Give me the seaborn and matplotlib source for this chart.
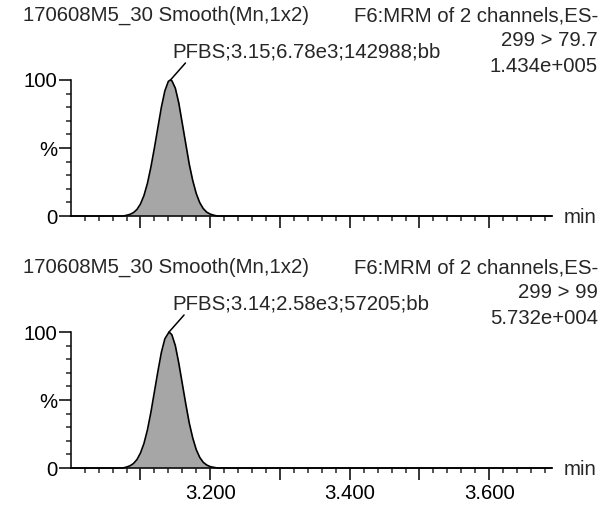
import numpy as np
import pandas as pd
import matplotlib
matplotlib.use("Agg")
import matplotlib.pyplot as plt
import seaborn as sns
from matplotlib.ticker import FixedLocator, FixedFormatter

sns.set_theme(style="ticks")
plt.rcParams["font.family"] = ["Liberation Sans", "DejaVu Sans"]

# ---- data ----
time_top = [3.000, 3.075, 3.080, 3.085, 3.090, 3.095, 3.100, 3.105, 3.110, 3.115,
            3.120, 3.125, 3.130, 3.135, 3.140, 3.143, 3.145, 3.150, 3.155, 3.160,
            3.165, 3.170, 3.175, 3.180, 3.185, 3.190, 3.195, 3.200, 3.205, 3.210, 3.690]
pct_top = [0, 0, 0.5, 1.2, 2.5, 4.8, 8.8, 15, 24, 36,
           50, 65, 80, 92, 99, 100, 99.5, 94, 83, 68,
           53, 38, 26, 16.5, 9.8, 5.5, 2.8, 1.4, 0.6, 0, 0]

time_bot = [3.000, 3.075, 3.080, 3.085, 3.090, 3.095, 3.100, 3.105, 3.110, 3.115,
            3.120, 3.125, 3.130, 3.135, 3.141, 3.145, 3.150, 3.155, 3.160,
            3.165, 3.170, 3.175, 3.180, 3.185, 3.190, 3.195, 3.200, 3.205, 3.210, 3.690]
pct_bot = [0, 0, 0.7, 1.6, 3.3, 6.2, 11, 18, 28, 41,
           56, 71, 85, 95, 100, 98, 90, 77, 62,
           47, 33, 22, 13.5, 7.8, 4.2, 2.2, 1.0, 0.5, 0, 0]

apex_top = (3.143, 100)
apex_bot = (3.141, 100)

left_title = "170608M5_30 Smooth(Mn,1x2)"
right_lines_top = ["F6:MRM of 2 channels,ES-", "299 > 79.7", "1.434e+005"]
right_lines_bot = ["F6:MRM of 2 channels,ES-", "299 > 99", "5.732e+004"]
peak_label_top = "PFBS;3.15;6.78e3;142988;bb"
peak_label_bot = "PFBS;3.14;2.58e3;57205;bb"

x_major = [3.1, 3.2, 3.3, 3.4, 3.5, 3.6]
x_major_labels = ["", "3.200", "", "3.400", "", "3.600"]
x_minor = list(np.round(np.arange(3.02, 3.685, 0.02), 3))
y_major = [0, 50, 100]
y_major_labels = ["0", "%", "100"]
y_minor = [10, 20, 30, 40, 60, 70, 80, 90]

W, H = 615, 507
fig = plt.figure(figsize=(W / 100, H / 100), dpi=100)
fig.patch.set_facecolor("white")

def fx(px):
    return px / W

def fy(py):
    return 1 - py / H

FS = 14.7
LW = 1.1

def panel(ax, t, p, apex, show_labels):
    df = pd.DataFrame({"t": t, "p": p})
    ax.fill_between(df["t"], 0, df["p"], color="#a6a6a6", lw=0, zorder=1)
    sns.lineplot(data=df, x="t", y="p", ax=ax, color="black", lw=1.2,
                 sort=False, zorder=3, clip_on=False)
    ax.set_xlim(3.0, 3.69)
    ax.set_ylim(0, 100)
    ax.set_xlabel("")
    ax.set_ylabel("")
    ax.set_facecolor("white")
    for s in ["top", "right"]:
        ax.spines[s].set_visible(False)
    for s in ["left", "bottom"]:
        ax.spines[s].set_linewidth(LW)
        ax.spines[s].set_color("black")
    ax.xaxis.set_major_locator(FixedLocator(x_major))
    ax.xaxis.set_minor_locator(FixedLocator(x_minor))
    if show_labels:
        ax.xaxis.set_major_formatter(FixedFormatter(x_major_labels))
    else:
        ax.xaxis.set_major_formatter(FixedFormatter([""] * len(x_major)))
    ax.yaxis.set_major_locator(FixedLocator(y_major))
    ax.yaxis.set_major_formatter(FixedFormatter(y_major_labels))
    ax.yaxis.set_minor_locator(FixedLocator(y_minor))
    ax.tick_params(axis="x", which="major", length=8.6, width=LW, direction="out",
                   pad=3, labelsize=FS, colors="black")
    ax.tick_params(axis="x", which="minor", length=3.6, width=LW, direction="out")
    ax.tick_params(axis="y", which="major", length=8.6, width=LW, direction="out",
                   pad=1, labelsize=FS, colors="black")
    ax.tick_params(axis="y", which="minor", length=3.6, width=LW, direction="out")
    ax.annotate("", xy=apex, xytext=(15, 17), textcoords="offset pixels",
                arrowprops=dict(arrowstyle="-", lw=1.1, color="black",
                                shrinkA=0, shrinkB=0), annotation_clip=False)

ax1 = fig.add_axes([fx(70.7), fy(216), fx(552) - fx(70.7), (216 - 80) / H])
ax2 = fig.add_axes([fx(70.7), fy(468), fx(552) - fx(70.7), (468 - 332) / H])
panel(ax1, time_top, pct_top, apex_top, False)
panel(ax2, time_bot, pct_bot, apex_bot, True)

for off, rl, pl in [(0, right_lines_top, peak_label_top),
                    (252, right_lines_bot, peak_label_bot)]:
    fig.text(fx(23), fy(21 + off), left_title, fontsize=FS, ha="left", va="baseline")
    for i, line in enumerate(rl):
        fig.text(fx(598), fy(21 + off + 25.5 * i), line, fontsize=FS,
                 ha="right", va="baseline")
    fig.text(fx(172), fy(58 + off), pl, fontsize=FS, ha="left", va="baseline")
    fig.text(fx(564), fy(223 + off), "min", fontsize=FS, ha="left", va="baseline")

fig.savefig("out.png", dpi=100, facecolor="white")
